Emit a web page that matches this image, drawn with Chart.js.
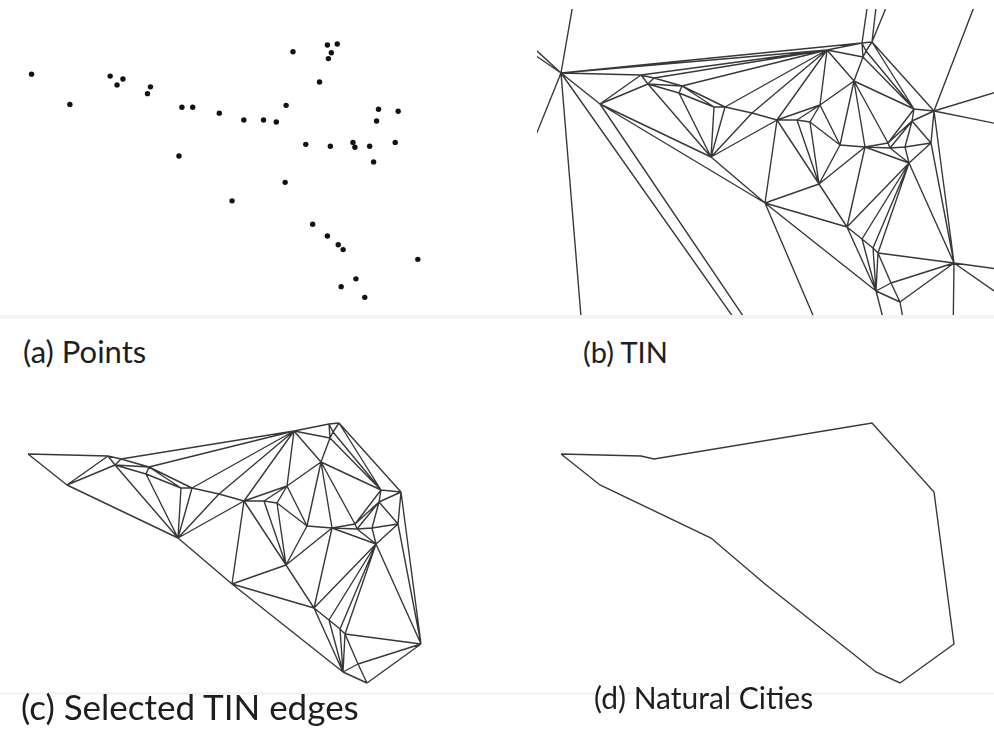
<!DOCTYPE html>
<html>
<head>
<meta charset="utf-8">
<title>Points, TIN and natural cities</title>
<script src="https://cdn.jsdelivr.net/npm/chart.js@4.4.1/dist/chart.umd.min.js"></script>
<style>
  body { margin: 0; background: #fff; width: 994px; height: 729px; position: relative; overflow: hidden; }
  canvas { position: absolute; }
  .band { position: absolute; background: #f4f4f4; }
  .lbl { position: absolute; font-family: Lato, "Open Sans", sans-serif; font-size: 30px; color: #1e1e1e; white-space: nowrap; line-height: 1; }
</style>
</head>
<body>
<div class="band" style="left:0;top:315px;width:994px;height:4px"></div>
<div class="band" style="left:0;top:692px;width:994px;height:3px"></div>

<canvas id="pointsChart" style="left:0;top:0" width="470" height="315"></canvas>
<canvas id="tinChart" style="left:537px;top:9px" width="457" height="306"></canvas>
<canvas id="edgesChart" style="left:0;top:382px" width="470" height="310"></canvas>
<canvas id="citiesChart" style="left:533px;top:382px" width="461" height="310"></canvas>

<div class="lbl" style="left:23px;top:336px;font-size:31px">(a) Points</div>
<div class="lbl" style="left:583px;top:337px;font-size:29px">(b) TIN</div>
<div class="lbl" style="left:21px;top:689px;font-size:35px">(c) Selected TIN edges</div>
<div class="lbl" style="left:594px;top:682px">(d) Natural Cities</div>

<script>
// point positions, in panel pixels (y grows downward)
const pointX = [28, 67, 108, 121, 115, 149, 146, 181, 192, 219, 178, 232, 294, 329, 339, 333, 330, 321, 287, 244, 264,
                277, 381, 401, 379, 307, 332, 355, 357, 372, 398, 376, 286, 314, 329, 340, 345, 421, 358, 343, 367];
const pointY = [72, 103, 74, 77, 83, 85, 92, 106, 106, 112, 156, 202, 49, 42, 41, 50, 56, 80, 104, 119, 119,
                121, 108, 110, 120, 144, 146, 142, 147, 146, 142, 162, 183, 226, 238, 247, 252, 262, 282, 290, 301];

// far-away TIN nodes, only their edges show (clipped) in panel (b); index 41 onwards
const outerX = [44, -20, -20, -20, 50, 217, 227, 291, 356, 374, 420, 480, 480, 480, 480, 451, 364, 346, 338];
const outerY = [-20, 28, 39, 191, 340, 340, 340, 340, 340, 340, 340, 270, 303, 126, 86, -20, -20, -20, -20];

// TIN edges kept in panel (c)
const shortEdges = [
  [0,1],[0,2],[1,2],[1,4],[2,4],[2,3],[3,4],[1,10],[4,10],[4,6],[4,5],[3,5],[5,6],[3,12],[5,12],
  [5,7],[6,7],[5,8],[7,8],[6,10],[7,10],[8,10],[8,9],[9,10],[8,12],[9,12],[9,19],[10,19],[10,11],[11,19],
  [12,19],[12,18],[18,19],[12,17],[17,18],[12,16],[12,13],[13,16],[13,15],[15,16],[13,14],[14,15],
  [14,22],[15,22],[16,22],[16,17],[17,22],[14,23],[22,23],
  [19,20],[20,21],[18,20],[18,21],[18,25],[17,25],[21,25],[19,32],[20,32],[21,32],[11,32],[25,32],
  [25,26],[26,32],[17,26],[17,27],[26,27],[22,27],[22,24],[24,27],[24,28],[27,28],[23,24],[23,30],
  [24,30],[24,29],[28,29],[29,30],[26,28],[26,31],[28,31],[29,31],[30,31],[26,33],[32,33],[11,33],
  [31,33],[31,34],[31,35],[31,36],[33,34],[34,35],[35,36],[33,39],[34,39],[35,39],[36,39],[11,39],
  [36,37],[31,37],[30,37],[23,37],[36,38],[38,39],[38,40],[39,40],[37,38],[37,40]
];
// long edges dropped from panel (c)
const longEdges = [[0,12],[0,13],[0,14],[2,12],[1,11]];
// edges running out of the frame in panel (b)
const outerEdges = [[0,41],[0,42],[0,43],[0,44],[0,45],[0,46],[1,47],[11,48],[39,49],[40,50],
  [37,51],[37,52],[37,53],[23,54],[23,55],[23,56],[14,57],[14,58],[13,59]];
// natural city outline, panel (d)
const cityRing = [0, 1, 10, 11, 39, 40, 37, 23, 14, 3, 2, 0];

const allX = pointX.concat(outerX);
const allY = pointY.concat(outerY);

function segments(edges) {
  const d = [];
  edges.forEach(function(e) {
    d.push({x: allX[e[0]], y: allY[e[0]]});
    d.push({x: allX[e[1]], y: allY[e[1]]});
    d.push({x: allX[e[0]], y: null});
  });
  return d;
}

function ring(ids) {
  return ids.map(function(i) { return {x: allX[i], y: allY[i]}; });
}

function makeChart(id, data, xmin, xmax, ymin, ymax) {
  const ctx = document.getElementById(id).getContext('2d');
  return new Chart(ctx, {
    type: 'scatter',
    data: { datasets: [data] },
    options: {
      responsive: false,
      animation: false,
      devicePixelRatio: 1,
      layout: { padding: 0 },
      plugins: { legend: { display: false }, tooltip: { enabled: false } },
      scales: {
        x: { type: 'linear', min: xmin, max: xmax, display: false },
        y: { type: 'linear', min: ymin, max: ymax, reverse: true, display: false }
      }
    }
  });
}

const lineStyle = { showLine: true, spanGaps: false, borderColor: '#383838', borderWidth: 1.4, pointRadius: 0, clip: 0 };

makeChart('pointsChart', {
  data: pointX.map(function(x, i) { return {x: x, y: pointY[i]}; }),
  pointRadius: 2.7, backgroundColor: '#111', borderWidth: 0
}, 0, 470, 0, 315);

makeChart('tinChart', Object.assign({ data: segments(shortEdges.concat(longEdges, outerEdges)) }, lineStyle),
  4, 461, 8, 314);

makeChart('edgesChart', Object.assign({ data: segments(shortEdges) }, lineStyle),
  0, 470, 0, 310);

makeChart('citiesChart', Object.assign({ data: ring(cityRing) }, lineStyle),
  0, 461, 0, 310);
</script>
</body>
</html>
